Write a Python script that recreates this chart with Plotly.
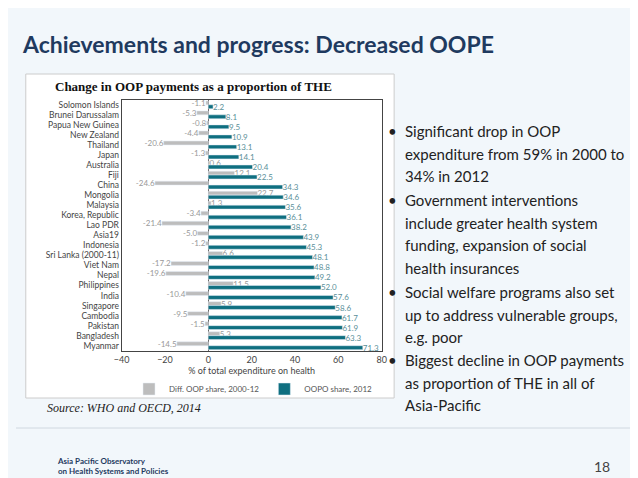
import plotly.graph_objects as go

countries = ['Solomon Islands', 'Brunei Darussalam', 'Papua New Guinea', 'New Zealand', 'Thailand',
             'Japan', 'Australia', 'Fiji', 'China', 'Mongolia', 'Malaysia', 'Korea, Republic',
             'Lao PDR', 'Asia19', 'Indonesia', 'Sri Lanka (2000-11)', 'Viet Nam', 'Nepal',
             'Philippines', 'India', 'Singapore', 'Cambodia', 'Pakistan', 'Bangladesh', 'Myanmar']
diff_share = [-1.1, -5.3, -0.8, -4.4, -20.6, -1.3, 0.6, 12.1, -24.6, 22.7, 1.3, -3.4, -21.4, -5.0,
              -1.2, 6.6, -17.2, -19.6, 11.5, -10.4, 5.9, -9.5, -1.5, 5.3, -14.5]
oop_share = [2.2, 8.1, 9.5, 10.9, 13.1, 14.1, 20.4, 22.5, 34.3, 34.6, 35.6, 36.1, 38.2, 43.9, 45.3,
             48.1, 48.8, 49.2, 52.0, 57.6, 58.6, 61.7, 61.9, 63.3, 71.3]
x_ticks = [-40, -20, 0, 20, 40, 60, 80]

teal = '#0f6f80'
grey = '#bdbdbd'
font = 'Lato'

fig = go.Figure()
fig.add_trace(go.Bar(name='Diff. OOP share, 2000-12', y=countries, x=diff_share, orientation='h',
                     marker_color=grey, text=['%.1f' % v for v in diff_share], textposition='outside',
                     constraintext='none', textfont=dict(size=8, color='#999999'), cliponaxis=False))
fig.add_trace(go.Bar(name='OOPO share, 2012', y=countries, x=oop_share, orientation='h',
                     marker_color=teal, text=['%.1f' % v for v in oop_share], textposition='outside',
                     constraintext='none', textfont=dict(size=8, color='#5a8f99'), cliponaxis=False))

fig.update_layout(
    width=638, height=478, margin=dict(l=0, r=0, t=0, b=0),
    paper_bgcolor='#f2f7fb', plot_bgcolor='white', showlegend=True,
    barmode='group', bargap=0.22, bargroupgap=0,
    font=dict(family=font, color='#333333'),
    xaxis=dict(domain=[0.169, 0.585], range=[-40, 80], tickvals=x_ticks, showgrid=False,
               zeroline=True, zerolinecolor='#666666', zerolinewidth=1,
               showline=True, linecolor='#444444', mirror=True, ticks='',
               tickfont=dict(size=9, color='#444444'),
               title=dict(text='% of total expenditure on health', font=dict(size=9, color='#444444'), standoff=2)),
    yaxis=dict(domain=[0.283, 0.808], autorange='reversed', showgrid=False,
               showline=True, linecolor='#444444', mirror=True, ticks='',
               tickfont=dict(size=8.5, color='#444444')),
    legend=dict(orientation='h', x=0.38, xanchor='center', y=1-381/478, yanchor='middle',
                font=dict(size=8, color='#555555'), traceorder='normal',
                bgcolor='rgba(0,0,0,0)'),
)

# white chart panel
fig.add_shape(type='rect', xref='paper', yref='paper', x0=10/638, x1=386/638, y0=1-390/478, y1=1-66/478,
              fillcolor='white', line=dict(color='#cccccc', width=1), layer='below')
# footer line
fig.add_shape(type='line', xref='paper', yref='paper', x0=0, x1=1, y0=1-420/478, y1=1-420/478,
              line=dict(color='#d0d8e0', width=1))

fig.add_annotation(x=4/638, y=1-36/478, xref='paper', yref='paper', xanchor='left', yanchor='middle',
                   text='<b>Achievements and progress: Decreased OOPE</b>', showarrow=False,
                   font=dict(family=font, size=23, color='#1f3a5f'))
fig.add_annotation(x=38/638, y=1-78/478, xref='paper', yref='paper', xanchor='left', yanchor='middle',
                   text='<b>Change in OOP payments as a proportion of THE</b>', showarrow=False,
                   font=dict(family='Liberation Serif', size=13, color='#111111'))
fig.add_annotation(x=30/638, y=1-400/478, xref='paper', yref='paper', xanchor='left', yanchor='middle',
                   text='<i>Source: WHO and OECD, 2014</i>', showarrow=False,
                   font=dict(family='Liberation Serif', size=12, color='#222222'))

bullets = [
    (123, ['Significant drop in OOP', 'expenditure from 59% in 2000 to', '34% in 2012']),
    (192, ['Government interventions', 'include greater health system', 'funding, expansion of social', 'health insurances']),
    (284, ['Social welfare programs also set', 'up to address vulnerable groups,', 'e.g. poor']),
    (352, ['Biggest decline in OOP payments', 'as proportion of THE in all of', 'Asia-Pacific']),
]
for top, lines in bullets:
    fig.add_annotation(x=378/638, y=1-top/478, xref='paper', yref='paper', xanchor='left', yanchor='middle',
                       text='•', showarrow=False, font=dict(family=font, size=15, color='#222222'))
    for i, line in enumerate(lines):
        fig.add_annotation(x=395/638, y=1-(top + i*22.5)/478, xref='paper', yref='paper',
                           xanchor='left', yanchor='middle', text=line, showarrow=False,
                           font=dict(family=font, size=15, color='#222222'))

fig.add_annotation(x=40/638, y=1-458/478, xref='paper', yref='paper', xanchor='left', yanchor='middle',
                   text='<b>Asia Pacific Observatory</b><br><b>on Health Systems and Policies</b>', showarrow=False,
                   align='left', font=dict(family=font, size=8, color='#1f3a5f'))
fig.add_annotation(x=608/638, y=1-458/478, xref='paper', yref='paper', xanchor='right', yanchor='middle',
                   text='18', showarrow=False, font=dict(family=font, size=14, color='#444444'))

fig.write_html('out.html')
